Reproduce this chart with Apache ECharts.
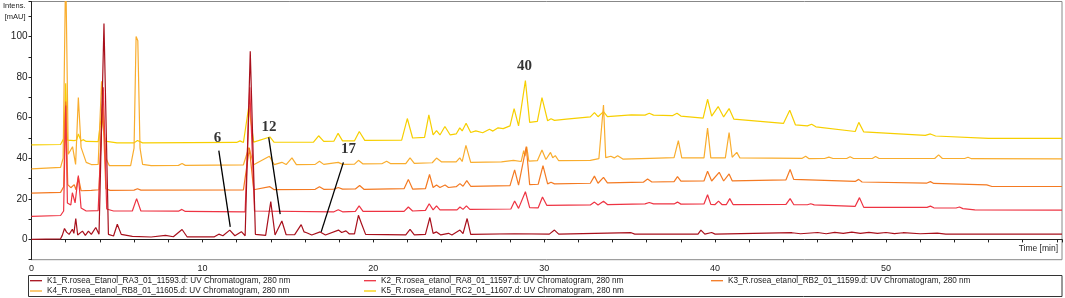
<!DOCTYPE html>
<html>
<head>
<meta charset="utf-8">
<script src="https://cdn.jsdelivr.net/npm/echarts@6/dist/echarts.min.js"></script>
<style>
html, body { margin: 0; padding: 0; background: #fff; }
#main { width: 1065px; height: 298px; }
</style>
</head>
<body>
<div id="main"></div>
<script>
// sample names as in the legend
var traceNames = [
  'K1_R.rosea_Etanol_RA3_01_11593.d: UV Chromatogram, 280 nm',
  'K2_R.rosea_etanol_RA8_01_11597.d: UV Chromatogram, 280 nm',
  'K3_R.rosea_etanol_RB2_01_11599.d: UV Chromatogram, 280 nm',
  'K4_R.rosea_etanol_RB8_01_11605.d: UV Chromatogram, 280 nm',
  'K5_R.rosea_etanol_RC2_01_11607.d: UV Chromatogram, 280 nm'
]
var traceColors = ['#a8101c', '#ee3342', '#f47a22', '#f9ad2e', '#f7cf00']

// [time min, intensity mAU]
var k1Trace = [[0, 0], [1.7, 0.3], [1.8, 2], [1.93, 5.4], [2.05, 3.6], [2.2, 2.5], [2.39, 5], [2.48, 3], [2.59, 10.3], [2.7, 2.2], [2.98, 4.1], [3.15, 2], [3.33, 4.1], [3.5, 2.5], [3.76, 5.9], [3.95, 2.5], [4.24, 106.5], [4.5, 2.5], [4.8, 1.7], [5.02, 7.5], [5.25, 2.5], [5.9, 1.5], [7.0, 1.2], [7.84, 2], [8.3, 1.3], [8.81, 4.9], [9.1, 1.3], [10.7, 1.3], [10.96, 2.6], [11.2, 1.8], [11.6, 4.6], [11.9, 1.8], [12.28, 3.8], [12.5, 1.8], [12.8, 92.8], [13.1, 2.5], [13.7, 2], [14.0, 18.6], [14.25, 2.2], [14.65, 9.1], [14.9, 2.3], [15.4, 2.4], [15.78, 7.3], [15.95, 3.7], [16.1, 3.3], [16.4, 2.2], [16.89, 3.7], [17.2, 2.2], [17.96, 4.6], [18.15, 3.4], [18.4, 4.2], [18.6, 2.7], [18.9, 2.7], [19.13, 11.9], [19.3, 8], [19.55, 2.5], [21.9, 2.2], [22.15, 4.9], [22.4, 2.2], [23.05, 2.5], [23.31, 10.8], [23.5, 3], [23.7, 3.7], [23.95, 2.2], [24.4, 3], [24.6, 2.2], [25.07, 4.6], [25.25, 2.9], [25.49, 10.3], [25.7, 2.5], [28.27, 2.8], [30.3, 2.6], [30.6, 4.6], [30.85, 2.6], [35.09, 3.3], [35.3, 2.6], [39.0, 2.6], [39.17, 4.6], [39.4, 2.6], [39.8, 3.4], [40.0, 2.6], [44.5, 3.3], [45.0, 2.8], [46.0, 3.4], [46.5, 2.8], [47.0, 3.5], [47.5, 3.0], [48.0, 3.6], [48.5, 3.0], [49.0, 3.5], [49.5, 3.0], [50.0, 3.4], [50.5, 2.9], [51.0, 3.3], [52.0, 2.8], [53.0, 3.1], [53.5, 2.6], [60.3, 2.6]]

var k2Trace = [[0, 11.4], [1.7, 11.8], [1.88, 14], [2.0, 66], [2.1, 18], [2.3, 17], [2.39, 23], [2.55, 18], [2.74, 31.5], [2.9, 15.5], [3.2, 14], [3.9, 14.2], [4.2, 75], [4.4, 15], [4.8, 14], [5.9, 14], [6.15, 20.1], [6.4, 14], [8.6, 13.9], [8.8, 14.8], [9.0, 13.8], [12.5, 13.6], [12.77, 75], [13.05, 14], [17.7, 13.6], [17.95, 14.6], [18.2, 13.6], [18.95, 13.8], [19.17, 16.5], [19.4, 13.8], [21.8, 13.8], [22.05, 16], [22.3, 14], [23.05, 14.3], [23.27, 17.6], [23.5, 14.6], [23.7, 16.5], [23.9, 14.6], [24.9, 14.6], [25.07, 16], [25.25, 14.8], [25.45, 16.5], [25.65, 14.8], [28.05, 15], [28.27, 18.9], [28.5, 15.3], [28.9, 23.5], [29.15, 15.7], [29.65, 15.6], [29.9, 20.9], [30.15, 16.8], [32.7, 17], [32.94, 18.4], [33.15, 17], [33.47, 18.8], [33.7, 17.2], [35.9, 17.5], [36.15, 18.2], [36.4, 17.5], [37.6, 17.5], [37.8, 18.4], [38.0, 17.4], [39.35, 17.5], [39.56, 22], [39.75, 17.3], [40.0, 17.2], [40.2, 18.9], [40.4, 17.2], [40.66, 17.2], [40.86, 20.1], [41.05, 17.2], [44.15, 17.3], [44.39, 20.1], [44.6, 17.2], [45.4, 17.1], [45.6, 17.6], [45.8, 17], [48.2, 16.3], [48.45, 20.6], [48.7, 15.8], [52.4, 15.8], [52.6, 16.4], [52.8, 15.6], [54.1, 15.5], [54.3, 16], [54.5, 15.2], [55.2, 14.6], [60.3, 14.4]]

var k3Trace = [[0, 22.8], [1.7, 23.2], [1.88, 26], [2.0, 68], [2.12, 27], [2.3, 25.5], [2.5, 27], [2.6, 24.5], [2.74, 30.7], [2.9, 24], [3.5, 24.2], [3.95, 24.5], [4.15, 70], [4.35, 25], [4.6, 24.2], [6.0, 24.3], [6.2, 25], [6.4, 24.3], [12.4, 24.4], [12.75, 45], [13.0, 24.5], [13.95, 26], [14.2, 24.5], [16.6, 24.7], [16.85, 26], [17.1, 24.7], [17.7, 24.8], [17.95, 25.6], [18.2, 24.8], [18.95, 24.9], [19.2, 26.6], [19.45, 24.7], [21.8, 25], [22.05, 29.6], [22.3, 24.8], [23.05, 25], [23.29, 32], [23.5, 25.6], [23.7, 26.8], [23.9, 25.6], [24.2, 26.8], [24.4, 25.6], [24.85, 26], [25.07, 27.5], [25.25, 26.2], [25.47, 29], [25.7, 26.2], [28.0, 26.5], [28.27, 34.3], [28.5, 26.8], [28.95, 45.7], [29.15, 27], [29.65, 27.2], [29.93, 36.4], [30.2, 27.4], [30.4, 28.2], [30.6, 27.4], [32.7, 27.7], [32.94, 31.2], [33.15, 27.7], [33.47, 30.6], [33.7, 27.9], [35.8, 28.2], [36.05, 29.8], [36.3, 28.3], [37.6, 28.5], [37.8, 31], [38.0, 28.7], [39.35, 28.8], [39.56, 33.6], [39.8, 28.8], [40.24, 33.1], [40.5, 28.8], [40.82, 32.3], [41.0, 28.9], [44.15, 29.4], [44.39, 34.5], [44.6, 29.6], [48.2, 28.6], [48.4, 29.6], [48.6, 28.3], [52.4, 27.8], [52.6, 28.5], [52.8, 27.6], [55.9, 26.9], [56.2, 26.1], [60.3, 26.1]]

var k4Trace = [[0, 34.8], [1.7, 35.5], [1.85, 40], [2.0, 135], [2.15, 42], [2.4, 45.7], [2.58, 37], [2.74, 70], [2.9, 45.4], [3.2, 38], [3.5, 36.9], [3.9, 37], [4.1, 78], [4.35, 40], [4.55, 36.4], [5.8, 36.4], [6.0, 45], [6.12, 100], [6.22, 98], [6.35, 45], [6.5, 37], [7.0, 36.4], [8.6, 36.5], [8.81, 37.4], [9.0, 36.5], [12.4, 36.8], [12.72, 45.4], [13.0, 36.8], [13.92, 41], [14.2, 36.9], [14.65, 38], [14.9, 36.9], [15.24, 40.2], [15.5, 36.9], [16.6, 37], [16.85, 38.5], [17.1, 37], [17.95, 38], [18.2, 37], [18.9, 37.1], [19.13, 39], [19.4, 37.2], [20.5, 37.3], [20.78, 38.5], [21.0, 37.4], [21.9, 37.4], [22.15, 40.2], [22.4, 37.5], [23.45, 37.8], [23.7, 40.1], [24.0, 38.2], [24.85, 38.2], [25.06, 40.2], [25.2, 38.4], [25.42, 46.4], [25.7, 38], [27.5, 38.2], [28.2, 39], [28.65, 38.4], [28.8, 43.8], [28.88, 41], [28.98, 45.7], [29.1, 38.6], [29.6, 38.8], [29.87, 44.1], [30.1, 39.4], [30.37, 42.9], [30.5, 40.3], [30.65, 41.3], [30.85, 38.8], [32.7, 39], [33.2, 39.8], [33.47, 66.3], [33.6, 40.3], [33.9, 41], [34.1, 40.2], [34.3, 41.3], [34.6, 39.6], [36.2, 40], [37.6, 40.3], [37.85, 48.7], [38.05, 40.2], [39.35, 40.2], [39.56, 54.9], [39.75, 40.2], [40.6, 40.2], [40.82, 52.7], [41.0, 40.5], [41.27, 42.9], [41.45, 40.2], [45.1, 40], [45.3, 41], [45.5, 39.8], [46.4, 39.9], [46.66, 40.6], [46.9, 39.9], [47.7, 39.9], [47.9, 40.8], [48.1, 39.9], [49.2, 39.9], [49.39, 40.9], [49.6, 39.9], [52.85, 39.9], [53.08, 41.7], [53.3, 39.9], [54.6, 39.9], [54.8, 40.5], [55.0, 39.8], [60.3, 39.7]]

var k5Trace = [[0, 46.6], [1.7, 46.8], [1.9, 50], [2.0, 77], [2.1, 49], [2.49, 48.7], [2.64, 49], [2.74, 52], [2.9, 48.5], [3.02, 49.2], [3.2, 48.3], [3.9, 48.2], [4.1, 62], [4.3, 48.5], [5.0, 47.6], [6.0, 47.6], [6.2, 48.8], [6.5, 47.6], [12.0, 47.8], [12.2, 48.6], [12.4, 47.8], [12.72, 65.8], [13.0, 48], [13.95, 50.5], [14.2, 47.9], [16.5, 48], [16.8, 51.1], [17.1, 48.3], [17.7, 48.5], [17.94, 52.3], [18.2, 48.6], [18.9, 48.6], [19.18, 53.2], [19.5, 48.8], [21.66, 49], [21.99, 59.6], [22.3, 50], [23.0, 50.3], [23.25, 61.4], [23.5, 51.5], [23.7, 53.6], [23.9, 51.5], [24.19, 55.7], [24.5, 51.5], [24.85, 52], [25.06, 55], [25.2, 53.5], [25.43, 57.3], [25.7, 52.7], [26.0, 53.5], [26.4, 52.6], [26.8, 54.3], [27.0, 53.4], [27.3, 55], [27.6, 54.6], [28.0, 56], [28.24, 64.5], [28.5, 56], [28.9, 78.3], [29.15, 57.7], [29.6, 58.2], [29.87, 69.9], [30.2, 58.5], [30.4, 59.5], [30.6, 58.7], [31.3, 59.3], [32.7, 60.4], [32.94, 62.5], [33.15, 60.5], [33.47, 63], [33.7, 60.5], [35.1, 61.4], [35.9, 61.3], [36.15, 62.2], [36.4, 61.3], [37.5, 61], [37.77, 62.2], [38.0, 60.8], [39.3, 59.8], [39.56, 69.1], [39.8, 60.8], [40.18, 65.5], [40.5, 60.4], [40.82, 64.5], [41.1, 59.3], [44.0, 57.2], [44.37, 63.7], [44.7, 56.5], [45.4, 56], [45.65, 56.8], [45.9, 55.5], [48.2, 53.2], [48.41, 57.7], [48.7, 53], [52.3, 51.3], [52.6, 52], [52.9, 51], [56.0, 49.8], [60.3, 49.8]]

// peak numbers and their pointer lines
var peakLabels = [['6', 10.89, 49.9], ['12', 13.9, 55.4], ['17', 18.55, 44.4], ['40', 28.85, 85.3]]
var peakPointers = [
  [[10.96, 43.8], [11.63, 6.2]],
  [[13.88, 50.3], [14.55, 12.5]],
  [[18.25, 38], [16.95, 3.7]]
]

var chartDom = document.getElementById('main')
var myChart = echarts.init(chartDom)
var option
var font = '"Liberation Sans", Arial, sans-serif'
var traces = [k1Trace, k2Trace, k3Trace, k4Trace, k5Trace]

var series = []
for (var i = traces.length - 1; i >= 0; i--) {
  series.push({
    name: traceNames[i],
    type: 'line',
    data: traces[i],
    symbol: 'none',
    lineStyle: { width: 1.2, color: traceColors[i] },
    itemStyle: { color: traceColors[i] }
  })
}
series.push({
  type: 'scatter',
  symbolSize: 1,
  z: 10,
  itemStyle: { color: 'rgba(0,0,0,0)' },
  data: peakLabels.map(function (p) { return { name: p[0], value: [p[1], p[2]] } }),
  label: {
    show: true,
    position: 'inside',
    formatter: '{b}',
    fontFamily: '"Liberation Serif", "Times New Roman", serif',
    fontWeight: 'bold',
    fontSize: 15,
    color: '#000',
    textBorderWidth: 0
  },
  markLine: {
    silent: true,
    symbol: ['none', 'none'],
    label: { show: false },
    lineStyle: { color: '#000', width: 1.3, type: 'solid' },
    data: peakPointers.map(function (p) { return [{ coord: p[0] }, { coord: p[1] }] })
  }
})

var legendBase = {
  orient: 'vertical',
  top: 275.7,
  padding: 0,
  icon: 'rect',
  itemWidth: 12,
  itemHeight: 1.3,
  itemGap: 0.3,
  selectedMode: false,
  textStyle: { fontSize: 8.2, lineHeight: 10, color: '#222', fontFamily: font }
}

option = {
  animation: false,
  backgroundColor: '#fff',
  grid: {
    left: 29,
    right: 3,
    top: 0,
    bottom: 38.3,
    show: true,
    borderColor: '#888',
    borderWidth: 1
  },
  xAxis: {
    type: 'value',
    min: 0,
    max: 60.3,
    interval: 2,
    splitLine: { show: false },
    axisLine: { lineStyle: { color: '#222', width: 1 } },
    axisTick: { length: 3, lineStyle: { color: '#222' } },
    axisLabel: {
      fontSize: 9,
      color: '#222',
      margin: 4,
      fontFamily: font,
      formatter: function (v) { return (v % 10 === 0 && v < 60) ? String(v) : '' }
    },
    name: 'Time [min]',
    nameLocation: 'end',
    nameGap: -4,
    nameTextStyle: { align: 'right', verticalAlign: 'top', padding: [5, 0, 0, 0], fontSize: 8.5, color: '#222', fontFamily: font }
  },
  yAxis: {
    type: 'value',
    min: -10,
    max: 117.3,
    interval: 10,
    splitLine: { show: false },
    axisLine: { show: true, lineStyle: { color: '#222', width: 1 } },
    axisTick: { show: true, length: 3, lineStyle: { color: '#222' } },
    axisLabel: {
      fontSize: 10,
      color: '#222',
      margin: 4,
      fontFamily: font,
      formatter: function (v) { return (v >= 0 && v <= 100 && v % 20 === 0) ? String(v) : '' }
    },
    name: 'Intens.\n[mAU]',
    nameLocation: 'end',
    nameGap: 1.5,
    nameTextStyle: { align: 'right', verticalAlign: 'top', padding: [0, 6, 0, 0], fontSize: 7.5, lineHeight: 11, color: '#222', fontFamily: font }
  },
  legend: [
    Object.assign({}, legendBase, { left: 30, data: [traceNames[0], traceNames[3]] }),
    Object.assign({}, legendBase, { left: 364, data: [traceNames[1], traceNames[4]] }),
    Object.assign({}, legendBase, { left: 711, data: [traceNames[2]] })
  ],
  graphic: [{
    type: 'rect',
    silent: true,
    shape: { x: 28.5, y: 275.5, width: 1033.5, height: 21 },
    style: { fill: 'none', stroke: '#333', lineWidth: 1 }
  }],
  series: series
}

option && myChart.setOption(option)
window.addEventListener('resize', () => myChart.resize())
</script>
</body>
</html>
